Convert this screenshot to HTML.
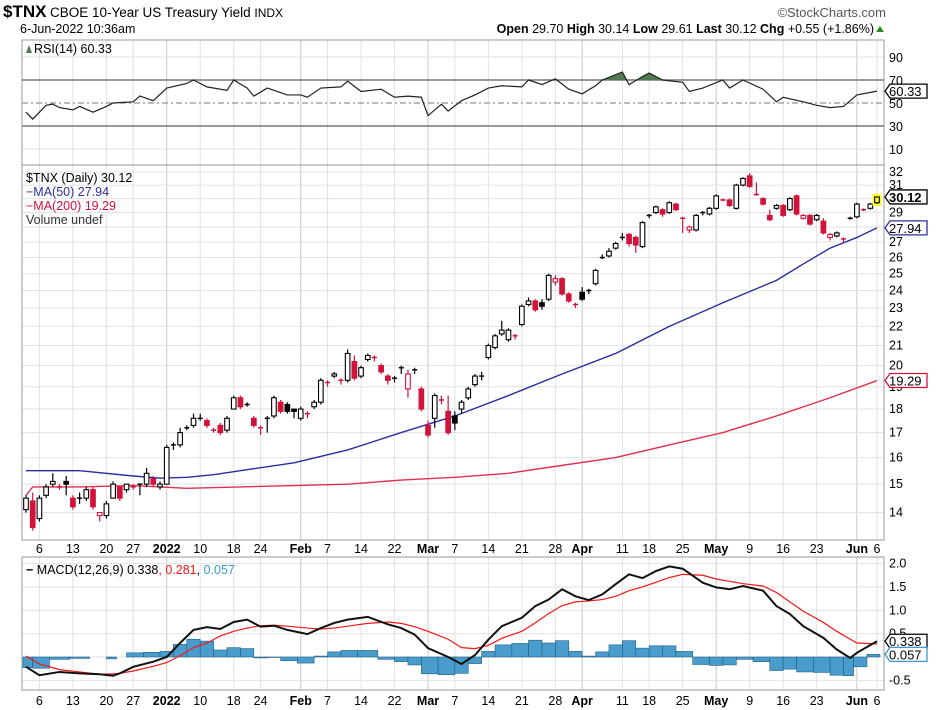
<!DOCTYPE html>
<html><head><meta charset="utf-8">
<style>
html,body{margin:0;padding:0;background:#fff;}
svg{display:block;font-family:"Liberation Sans",Arial,sans-serif;}
</style></head>
<body>
<svg id="chart" width="936" height="710" viewBox="0 0 936 710" xmlns="http://www.w3.org/2000/svg">
  <g id="header">
    <text x="3" y="17" font-size="17" font-weight="bold">$TNX</text>
    <text x="50" y="17" font-size="13.5">CBOE 10-Year US Treasury Yield <tspan font-size="12">INDX</tspan></text>
    <text x="886" y="17" font-size="13" fill="#555" text-anchor="end">©StockCharts.com</text>
    <text x="20" y="33" font-size="12.5">6-Jun-2022 10:36am</text>
    <text x="874" y="33" font-size="12.5" text-anchor="end"><tspan font-weight="bold">Open</tspan> 29.70 <tspan font-weight="bold">High</tspan> 30.14 <tspan font-weight="bold">Low</tspan> 29.61 <tspan font-weight="bold">Last</tspan> 30.12 <tspan font-weight="bold">Chg</tspan> +0.55 (+1.86%)</text>
    <polygon points="876,32 884,32 880,26" fill="#2a8a2a"/>
  </g>
  <g id="grid"></g>
  <g id="rsi"></g>
  <g id="main"></g>
  <g id="macd"></g>
  <g id="frames"></g>
  <g id="labels"></g>
</svg>
<script>
// ---------- data ----------
const candleOpen  = [14.1,14.4,13.8,14.6,15.0,14.9,15.1,14.5,14.5,14.5,14.8,13.9,13.9,14.5,14.9,14.8,14.9,15.0,15.0,15.2,14.9,15.0,16.5,16.5,17.2,17.3,17.6,17.5,17.1,17.3,17.1,18.0,18.5,18.2,17.6,17.2,17.6,17.7,18.3,18.2,18.0,17.6,17.8,18.1,18.3,19.2,19.5,19.3,19.3,20.2,19.5,20.3,20.4,20.0,19.5,19.4,19.9,18.9,19.8,18.9,17.3,17.6,18.4,17.9,17.7,18.0,18.5,19.1,19.5,20.4,20.9,21.6,21.3,21.5,22.1,23.2,23.4,23.3,23.5,24.5,24.7,23.8,23.2,23.9,24.0,24.4,26.0,26.1,26.6,27.3,27.5,27.3,26.7,28.8,29.0,29.2,29.0,29.6,28.6,27.8,27.8,29.0,28.9,29.3,29.9,29.9,29.3,31.0,31.7,30.3,30.0,28.8,29.3,29.5,29.2,30.2,28.6,28.8,28.5,28.4,27.3,27.4,27.2,28.6,28.7,29.2,29.3,29.70];
const candleHigh  = [14.6,14.7,14.6,15.0,15.4,15.0,15.3,14.6,14.7,14.9,14.9,14.0,14.4,15.1,14.9,15.0,15.0,15.0,15.6,15.3,15.1,16.5,16.6,17.2,17.3,17.8,17.8,17.6,17.2,17.4,17.7,18.6,18.6,18.3,17.7,17.3,17.7,18.6,18.4,18.3,18.0,18.1,17.9,18.4,19.4,19.3,19.7,19.4,20.8,20.5,20.0,20.6,20.5,20.1,19.6,19.5,20.0,19.8,19.9,19.0,17.5,18.7,18.6,18.6,17.9,18.4,19.0,19.6,19.7,21.1,21.6,22.3,21.9,21.6,23.2,23.6,23.5,23.5,25.0,24.9,24.8,23.9,23.3,24.2,24.1,25.3,26.2,26.6,27.0,27.6,27.6,27.4,28.4,28.9,29.5,29.3,29.8,29.7,28.7,28.1,28.9,29.1,29.4,30.3,30.0,30.0,31.1,31.6,31.9,31.2,30.1,29.2,29.6,29.6,30.1,30.3,28.9,28.9,28.9,28.6,27.6,27.7,27.3,28.7,29.7,29.3,29.7,30.14];
const candleLow   = [14.0,13.4,13.7,14.5,14.9,14.8,14.6,14.1,14.3,14.4,14.1,13.7,13.8,14.5,14.4,14.7,14.8,14.6,14.9,14.9,14.8,15.0,16.3,16.4,17.1,17.2,17.5,17.2,17.0,16.9,17.0,18.0,18.0,18.1,17.2,16.9,17.0,17.6,17.8,17.8,17.6,17.5,17.6,18.0,18.2,19.0,19.4,19.1,19.2,19.3,19.4,20.2,20.2,19.6,19.1,19.2,19.6,18.5,19.6,17.9,16.8,17.2,18.2,16.9,17.1,17.8,18.4,19.0,19.3,20.3,20.8,21.5,21.2,21.3,22.0,23.1,22.8,22.9,23.4,24.3,23.7,23.3,23.0,23.4,23.8,24.3,25.9,26.0,26.5,27.1,26.7,26.3,26.6,28.6,28.9,28.7,28.9,29.1,27.6,27.6,27.7,28.8,28.8,29.2,29.8,29.4,29.2,30.9,30.8,30.2,29.5,28.4,29.2,28.7,29.1,28.8,28.5,28.1,28.4,27.5,27.1,27.3,27.0,28.5,28.6,29.1,29.2,29.61];
const candleClose = [14.5,13.5,14.5,14.9,15.1,14.9,15.0,14.2,14.5,14.8,14.2,14.0,14.3,15.0,14.5,15.0,14.9,15.0,15.4,15.0,15.0,16.4,16.5,17.0,17.2,17.6,17.6,17.3,17.1,17.0,17.6,18.5,18.1,18.2,17.3,17.2,17.6,18.5,17.9,17.9,17.9,18.0,17.8,18.3,19.3,19.2,19.6,19.3,20.6,19.4,19.9,20.5,20.4,19.7,19.3,19.4,19.9,19.6,19.8,18.0,16.9,18.6,18.4,17.0,17.4,18.3,18.9,19.5,19.5,21.0,21.5,21.8,21.8,21.5,23.1,23.4,22.9,23.1,24.9,24.7,23.8,23.4,23.2,23.5,24.0,25.2,26.0,26.4,26.9,27.3,26.9,26.8,28.3,28.8,29.4,28.9,29.7,29.2,28.6,28.0,28.8,29.0,29.3,30.2,29.9,29.5,31.0,31.5,30.9,30.3,29.6,28.5,29.5,28.8,30.0,28.9,28.8,28.2,28.8,27.6,27.5,27.6,27.2,28.6,29.6,29.2,29.6,30.12];

const ma50Days = [0,8,16,20,24,28,32,40,48,56,64,72,80,88,96,104,112,116,120,124,127];
const ma50Vals = [15.5,15.5,15.3,15.22,15.25,15.35,15.5,15.8,16.3,17.0,17.7,18.6,19.6,20.6,22.0,23.3,24.6,25.6,26.6,27.3,27.94];
const ma200Days = [0,1,8,16,20,24,32,40,48,56,64,72,80,88,96,104,112,120,127];
const ma200Vals = [14.6,14.9,14.9,14.95,14.9,14.85,14.9,14.95,15.0,15.15,15.25,15.4,15.7,16.0,16.5,17.0,17.7,18.5,19.29];

const rsiDays = [0,1,3,4,5,7,8,10,12,13,16,17,19,21,24,25,27,30,31,33,34,36,39,41,42,44,47,48,50,53,55,57,59,60,62,63,65,67,69,71,74,75,77,79,81,83,85,86,89,90,92,93,95,98,99,101,104,105,107,110,112,113,116,118,120,122,124,127];
const rsiVals = [42,36,48,49,46,44,47,42,47,50,51,56,52,63,67,70,64,61,70,63,56,63,57,57,55,63,64,69,60,62,55,56,55,39,49,43,52,57,63,65,64,70,66,71,62,58,65,70,77,66,73,76,70,68,60,63,70,63,70,62,51,55,51,48,46,47,57,60.33];

const macdDays = [0,2,5,8,11,13,14,16,19,21,23,25,27,29,31,33,35,37,39,42,44,46,48,51,54,56,58,60,63,65,67,69,71,74,76,78,80,82,84,86,88,90,92,94,96,98,101,103,105,107,110,112,114,116,119,121,123,124,127];
const macdVals = [-0.21,-0.39,-0.32,-0.35,-0.37,-0.40,-0.35,-0.21,-0.10,0.0,0.30,0.58,0.64,0.60,0.75,0.80,0.65,0.67,0.58,0.49,0.62,0.73,0.80,0.86,0.70,0.62,0.48,0.19,0.0,-0.15,0.04,0.37,0.66,0.84,1.09,1.23,1.45,1.30,1.22,1.34,1.56,1.77,1.69,1.84,1.94,1.89,1.59,1.49,1.45,1.52,1.42,1.09,0.92,0.66,0.41,0.16,-0.02,0.09,0.338];
const signalVals = [0.02,-0.15,-0.27,-0.32,-0.37,-0.36,-0.35,-0.30,-0.20,-0.12,0.03,0.20,0.30,0.45,0.55,0.62,0.67,0.68,0.66,0.62,0.60,0.62,0.66,0.72,0.75,0.72,0.65,0.55,0.38,0.20,0.18,0.25,0.40,0.55,0.73,0.93,1.10,1.18,1.20,1.23,1.30,1.42,1.50,1.60,1.70,1.77,1.75,1.67,1.62,1.57,1.52,1.38,1.18,0.98,0.74,0.55,0.38,0.30,0.281];

const priceTicks = [14,15,16,17,18,19,20,21,22,23,24,25,26,27,28,29,30,31,32];
const rsiTicks = [90,70,50,30,10];
const macdTicks = [2.0,1.5,1.0,0.5,-0.5];
const dateLabels = ["6","13","20","27","2022","10","18","24","Feb","7","14","22","Mar","7","14","21","28","Apr","11","18","25","May","9","16","23","Jun","6"];
const dateDays   = [2,7,12,16,21,26,31,35,41,45,50,55,60,64,69,74,79,83,89,93,98,103,108,113,118,124,127];
const dateBold   = [0,0,0,0,1,0,0,0,1,0,0,0,1,0,0,0,0,1,0,0,0,1,0,0,0,1,0];

// ---------- geometry ----------
const L = 22, R = 884;
const RSI_T = 40, RSI_B = 165, MAIN_T = 165, MAIN_B = 540, MACD_T = 557, MACD_B = 690;
const N = candleClose.length;
const xDay = i => 26 + i * (877 - 26) / (N - 1);
const yPrice = v => 172 + 412 * Math.log(32 / v);
const yRsi = v => 103 - (v - 50) * 1.15;
const yMacd = v => 657 - 46.7 * v;
const NS = "http://www.w3.org/2000/svg";
const RED = "#d3123c";

function mk(tag, attrs, parent) {
  const e = document.createElementNS(NS, tag);
  for (const k in attrs) e.setAttribute(k, attrs[k]);
  parent.appendChild(e);
  return e;
}
const gGrid = document.getElementById('grid');
const gRsi = document.getElementById('rsi');
const gMain = document.getElementById('main');
const gMacd = document.getElementById('macd');
const gFrames = document.getElementById('frames');
const gLab = document.getElementById('labels');

dateDays.forEach((d, k) => {
  const x = xDay(d);
  [[RSI_T, RSI_B], [MAIN_T, MAIN_B], [MACD_T, MACD_B]].forEach(([a, b]) => {
    const ln = mk('line', {x1: x, x2: x, y1: a, y2: b, stroke: dateBold[k] ? '#c8c8c8' : '#e2e2e2', 'stroke-width': 1}, gGrid);
    
    
  });
  [553, 705].forEach(yy => {
    const t = mk('text', {x: x, y: yy, 'font-size': 12.5, 'text-anchor': 'middle', 'font-weight': dateBold[k] ? 'bold' : 'normal'}, gLab);
    t.textContent = dateLabels[k];
    
    
  });
});

priceTicks.forEach(v => {
  const y = yPrice(v);
  const ln = mk('line', {x1: L, x2: R, y1: y, y2: y, stroke: '#e2e2e2'}, gGrid);
  
  
  const t = mk('text', {x: 889, y: y + 4, 'font-size': 12.5}, gLab);
  t.textContent = v;
  
  
});
rsiTicks.forEach(v => {
  const y = yRsi(v);
  const strong = v === 70 || v === 30;
  const ln = mk('line', {x1: L, x2: R, y1: y, y2: y, stroke: (strong || v === 50) ? '#777' : '#e2e2e2', 'stroke-width': strong ? 1.5 : 1}, gGrid);
  if (v === 50) ln.setAttribute('stroke-dasharray', '6,3,2,3');
  
  
  const t = mk('text', {x: 889, y: y + 5, 'font-size': 12.5}, gLab);
  t.textContent = v;
  
  
});
macdTicks.concat([0]).forEach(v => {
  const y = yMacd(v);
  const ln = mk('line', {x1: L, x2: R, y1: y, y2: y, stroke: '#e2e2e2'}, gGrid);
  
  
  if (v === 0) return;
  const t = mk('text', {x: 889, y: y + 4, 'font-size': 12.5}, gLab);
  t.textContent = v.toFixed(1);
  
  
});

// ---------- RSI ----------
const rsiPts = rsiDays.map((d, i) => [xDay(d), yRsi(rsiVals[i])]);
const cp = mk('clipPath', {id: 'above70'}, gRsi);
mk('rect', {x: L, y: RSI_T, width: R - L, height: yRsi(70) - RSI_T}, cp);
const y70 = yRsi(70);
const area = mk('polygon', {points: [[rsiPts[0][0], y70]].concat(rsiPts).concat([[rsiPts[rsiPts.length - 1][0], y70]]).map(p => p.join(',')).join(' '), fill: '#4f7a4f', 'clip-path': 'url(#above70)'}, gRsi);


const rsiLine = mk('polyline', {points: rsiPts.map(p => p.join(',')).join(' '), fill: 'none', stroke: '#222', 'stroke-width': 1.2}, gRsi);



// ---------- main ----------
function ma(days, vals, color, name) {
  const pl = mk('polyline', {points: days.map((d, i) => xDay(d) + ',' + yPrice(vals[i])).join(' '), fill: 'none', stroke: color, 'stroke-width': 1.4, 'stroke-linejoin': 'round'}, gMain);
  
  
}
ma(ma200Days, ma200Vals, '#e0304f', 'ma200-line');
ma(ma50Days, ma50Vals, '#2b2f9e', 'ma50-line');

for (let i = 0; i < N; i++) {
  const o = candleOpen[i], c = candleClose[i], h = candleHigh[i], l = candleLow[i];
  const prev = i > 0 ? candleClose[i - 1] : o;
  const col = c >= prev ? '#000' : RED;
  const hollow = c > o;
  const last = i === N - 1;
  const x = xDay(i);
  const g = mk('g', {}, gMain);
  
  
  if (last) mk('rect', {x: x - 4.5, y: yPrice(h) - 3, width: 9, height: yPrice(l) - yPrice(h) + 5, fill: '#ffff33'}, g);
  mk('line', {x1: x, x2: x, y1: yPrice(h), y2: yPrice(l), stroke: col, 'stroke-width': 1.2}, g);
  let yt = yPrice(Math.max(o, c)), yb = yPrice(Math.min(o, c));
  if (yb - yt < 1.5) { mk('line', {x1: x - 2.5, x2: x + 2.5, y1: yt, y2: yt, stroke: col, 'stroke-width': 1.5}, g); continue; }
  mk('rect', {x: x - 2.3, y: yt, width: 4.6, height: yb - yt, fill: last ? '#ffff33' : (hollow ? '#fff' : col), stroke: col, 'stroke-width': 1.1}, g);
}

// ---------- MACD ----------
const y0 = yMacd(0);
macdDays.forEach((d, i) => {
  const h = macdVals[i] - signalVals[i];
  const xa = i > 0 ? (xDay(macdDays[i - 1]) + xDay(d)) / 2 : xDay(d) - 3;
  const xb = i < macdDays.length - 1 ? (xDay(macdDays[i + 1]) + xDay(d)) / 2 : xDay(d) + 3;
  const y = yMacd(h);
  const b = mk('rect', {x: xa, y: Math.min(y, y0), width: xb - xa, height: Math.abs(y - y0), fill: '#4a9ccc', stroke: '#1f5f85', 'stroke-width': 0.6}, gMacd);
  
  
});
const sig = mk('polyline', {points: macdDays.map((d, i) => xDay(d) + ',' + yMacd(signalVals[i])).join(' '), fill: 'none', stroke: '#f01818', 'stroke-width': 1.2}, gMacd);


const mline = mk('polyline', {points: macdDays.map((d, i) => xDay(d) + ',' + yMacd(macdVals[i])).join(' '), fill: 'none', stroke: '#111', 'stroke-width': 2}, gMacd);



// ---------- frames ----------
[[RSI_T, RSI_B], [MAIN_T, MAIN_B], [MACD_T, MACD_B]].forEach(([a, b], k) => {
  const r = mk('rect', {x: L, y: a, width: R - L, height: b - a, fill: 'none', stroke: '#999', 'stroke-width': 1}, gFrames);
  
  
});

// ---------- legends ----------
function txt(x, y, s, attrs, name) {
  const t = mk('text', Object.assign({x: x, y: y, 'font-size': 12.5}, attrs), gLab);
  t.textContent = s;
  
  
  return t;
}
mk('polygon', {points: '26,53 29,45 32,53', fill: '#4f7a4f'}, gLab);
txt(34, 53, 'RSI(14) 60.33', {}, 'rsi-legend');
txt(26, 182, '$TNX (Daily) 30.12', {}, 'price-legend');
txt(26, 196, '\u2212MA(50) 27.94', {fill: '#2b2f9e'}, 'ma50-legend');
txt(26, 210, '\u2212MA(200) 19.29', {fill: '#d3123c'}, 'ma200-legend');
txt(26, 224, 'Volume undef', {fill: '#333'}, 'volume-legend');
const ml = txt(26, 574, '', {}, 'macd-legend');
ml.innerHTML = '<tspan font-weight="bold">\u2212</tspan> MACD(12,26,9) 0.338<tspan fill="#f01818">, 0.281</tspan>, <tspan fill="#3a9ad0">0.057</tspan>';

// ---------- value tags ----------
function tag(y, s, color, bold, name) {
  const g = mk('g', {}, gLab);
  
  
  mk('polygon', {points: `${R+1},${y} ${R+6},${y-7} 927,${y-7} 927,${y+7} ${R+6},${y+7}`, fill: '#fff', stroke: color, 'stroke-width': 1.3}, g);
  const t = mk('text', {x: 889, y: y + 5, 'font-size': 13, 'font-weight': bold ? 'bold' : 'normal', fill: '#000'}, g);
  t.textContent = s;
}
tag(yRsi(60.33), '60.33', '#000', false, 'rsi-value-tag');
tag(yPrice(30.12), '30.12', '#000', true, 'last-price-tag');
tag(yPrice(27.94), '27.94', '#2b2f9e', false, 'ma50-value-tag');
tag(yPrice(19.29), '19.29', '#d3123c', false, 'ma200-value-tag');
tag(yMacd(0.338), '0.338', '#000', false, 'macd-value-tag');
tag(yMacd(0.057), '0.057', '#3a9ad0', false, 'histogram-value-tag');
</script>
</body></html>
